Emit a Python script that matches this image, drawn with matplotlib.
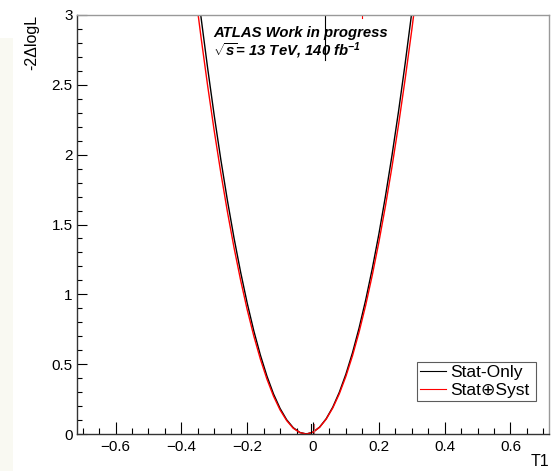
import matplotlib
matplotlib.use("Agg")
import matplotlib.pyplot as plt
from matplotlib.ticker import MultipleLocator
from matplotlib.patches import Rectangle

plt.rcParams['font.family'] = ['Liberation Sans', 'DejaVu Sans']
plt.rcParams['mathtext.fontset'] = 'custom'
plt.rcParams['mathtext.rm'] = 'Liberation Sans:italic:bold'
plt.rcParams['mathtext.it'] = 'Liberation Sans:italic:bold'
plt.rcParams['mathtext.bf'] = 'Liberation Sans:italic:bold'

# ---- data ----
t1 = [-0.36, -0.34, -0.32, -0.30, -0.28, -0.26, -0.24, -0.22, -0.20, -0.18,
      -0.16, -0.14, -0.12, -0.10, -0.08, -0.06, -0.04, -0.02, 0.00, 0.02,
      0.04, 0.06, 0.08, 0.10, 0.12, 0.14, 0.16, 0.18, 0.20, 0.22,
      0.24, 0.26, 0.28, 0.30, 0.32]
nll_stat = [3.365, 2.980, 2.618, 2.279, 1.964, 1.672, 1.404, 1.160, 0.938, 0.740,
            0.566, 0.415, 0.287, 0.183, 0.102, 0.045, 0.011, 0.000, 0.013, 0.049,
            0.109, 0.192, 0.299, 0.429, 0.582, 0.759, 0.959, 1.183, 1.430, 1.701,
            1.995, 2.312, 2.653, 3.017, 3.405]
nll_syst = [3.205, 2.837, 2.492, 2.169, 1.869, 1.591, 1.335, 1.102, 0.891, 0.703,
            0.537, 0.393, 0.271, 0.172, 0.096, 0.041, 0.010, 0.000, 0.013, 0.048,
            0.106, 0.186, 0.288, 0.413, 0.560, 0.730, 0.921, 1.136, 1.372, 1.631,
            1.913, 2.216, 2.542, 2.891, 3.262]
series_labels = ["Stat-Only", "Stat\u2295Syst"]
x_limits = (-0.717, 0.717)
y_limits = (0, 3)

W, H = 553, 471
fig = plt.figure(figsize=(W / 100, H / 100), dpi=100)
fig.patch.set_facecolor('white')
# faint strip at far left of the screenshot
fig.patches.append(Rectangle((0, 0), 13 / W, (H - 38) / H, transform=fig.transFigure,
                             facecolor='#f9f9f2', edgecolor='none', zorder=0))

ax = fig.add_axes([77 / W, (H - 434) / H, (549 - 77) / W, (434 - 15) / H])
l1, = ax.plot(t1, nll_stat, color='black', lw=1.0, label=series_labels[0])
l2, = ax.plot(t1, nll_syst, color='red', lw=1.0, label=series_labels[1])

# small markers seen in the reference
ax.plot([0.036, 0.036], [2.68, 3.0], color='black', lw=0.8)
ax.plot([0.15, 0.15], [2.975, 3.0], color='red', lw=0.8)
ax.plot([-0.007, -0.007], [0, 0.07], color='black', lw=0.8)
ax.plot([0.002, 0.002], [0, 0.07], color='#cc6666', lw=0.8)

ax.set_xlim(*x_limits)
ax.set_ylim(*y_limits)
ax.xaxis.set_major_locator(MultipleLocator(0.2))
ax.xaxis.set_minor_locator(MultipleLocator(0.05))
ax.yaxis.set_major_locator(MultipleLocator(0.5))
ax.yaxis.set_minor_locator(MultipleLocator(0.1))
ax.tick_params(axis='x', which='major', direction='in', length=9, width=0.8, labelsize=11, pad=4)
ax.tick_params(axis='x', which='minor', direction='in', length=4.5, width=0.8)
ax.tick_params(axis='y', which='major', direction='in', length=7, width=0.8, labelsize=11, pad=3)
ax.tick_params(axis='y', which='minor', direction='in', length=3.6, width=0.8)
ax.xaxis.set_major_formatter(plt.FuncFormatter(lambda v, p: ('0' if abs(v) < 1e-9 else ('%g' % v).replace('-', '\u2212'))))
ax.yaxis.set_major_formatter(plt.FuncFormatter(lambda v, p: '%g' % v))

for s in ['left', 'bottom']:
    ax.spines[s].set_color('#333333')
    ax.spines[s].set_linewidth(1.0)
for s in ['top', 'right']:
    ax.spines[s].set_color('#999999')
    ax.spines[s].set_linewidth(1.0)

leg = ax.legend(handles=[l1, l2], loc='lower left',
                bbox_to_anchor=((417 - 77) / (549 - 77), (434 - 401) / (434 - 15),
                                (536 - 417) / (549 - 77), (401 - 349) / (434 - 15)),
                mode='expand', fontsize=12.5, frameon=True, fancybox=False,
                handlelength=1.5, handletextpad=0.25, borderaxespad=0, borderpad=0.15,
                labelspacing=0.2)
leg.get_frame().set_edgecolor('#333333')
leg.get_frame().set_linewidth(0.8)
for ln in leg.get_lines():
    ln.set_linewidth(0.8)

fig.text(213 / W, 1 - 33 / H, "ATLAS Work in progress", fontsize=10.7,
         fontweight='bold', fontstyle='italic', ha='left', va='center')
fig.text(213 / W, 1 - 51 / H, r"$\sqrt{s}$= 13 TeV, 140 fb$^{-1}$", fontsize=10.7,
         fontweight='bold', fontstyle='italic', ha='left', va='center')

fig.text(32 / W, 1 - 15 / H, "-2\u0394logL", fontsize=11.5, rotation=90,
         ha='center', va='top')
fig.text(549 / W, 1 - 462 / H, "T1", fontsize=11.5, ha='right', va='center')

fig.savefig("out.png", dpi=100)
